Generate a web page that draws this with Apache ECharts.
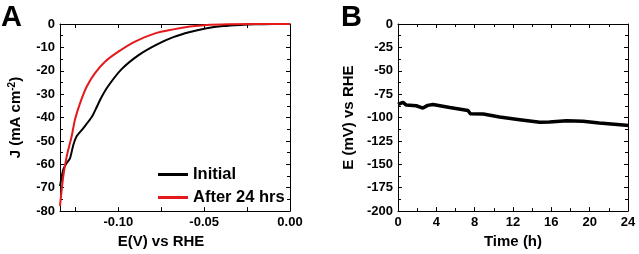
<!DOCTYPE html>
<html><head><meta charset="utf-8">
<script src="https://cdn.jsdelivr.net/npm/echarts@6/dist/echarts.min.js"></script>
<style>html,body{margin:0;padding:0;background:#fff}#c{width:639px;height:254px}</style>
</head><body><div id="c"></div>
<script>
// Panel A: polarization curves (E in V vs RHE, J in mA cm^-2)
const initialE = [-0.1340,-0.1321,-0.1301,-0.1282,-0.1262,-0.1243,-0.1204,-0.1155,-0.1126,-0.1100,-0.1059,-0.0981,-0.0880,-0.0777,-0.0680,-0.0583,-0.0485,-0.0390,-0.0291,-0.0204,-0.0100,0];
const initialJ = [-69.3,-62.2,-59.4,-57.5,-51.6,-48,-44.5,-39.8,-35.5,-31.5,-26.5,-19.3,-13.2,-8.8,-5.6,-3.4,-1.8,-0.9,-0.4,-0.15,-0.05,0];
const afterE = [-0.1340,-0.1321,-0.1301,-0.1272,-0.1253,-0.1223,-0.1184,-0.1136,-0.1078,-0.1000,-0.0903,-0.0786,-0.0680,-0.0583,-0.0485,-0.0361,-0.0200,0];
const afterJ = [-77.9,-65.1,-56.6,-48,-40.9,-33.8,-26.7,-21,-16.1,-11.8,-7.5,-4,-2.3,-1.1,-0.4,-0.1,0,0];
const aXTicks = [-0.125,-0.10,-0.075,-0.05,-0.025,0];
const aXLabels = [-0.10,-0.05,0.00];
// Panel B: chronopotentiometry (time in h, E in mV vs RHE)
const timeH = [0,0.18,0.52,0.87,1.9,2.6,3.1,3.65,5.4,7.3,7.55,8.9,10.6,12.7,14.8,15.8,17.6,19.3,21,23.8,24];
const potMV = [-86,-85.2,-83.8,-86.7,-87.4,-89.9,-87,-86,-89.2,-92.4,-95.9,-96.3,-99.5,-102.3,-105.1,-104.7,-103.4,-104,-105.8,-108.3,-108.5];

const zip = (a,b)=>a.map((v,i)=>[v,b[i]]);
const F = 'Liberation Sans, Arial, sans-serif';
const lbl = {color:'#000',fontWeight:'bold',fontSize:13,fontFamily:F,margin:5};
const axLine = {show:true,onZero:false,lineStyle:{color:'#000',width:1}};
const nameStyle = {color:'#000',fontWeight:'bold',fontSize:15,fontFamily:F};

const chart = echarts.init(document.getElementById('c'));
chart.setOption({
  animation:false,
  title:[
    {text:'A',left:-4,top:-2,textStyle:{fontSize:29,fontWeight:'bold',color:'#000',fontFamily:F}},
    {text:'B',left:336,top:-2,textStyle:{fontSize:29,fontWeight:'bold',color:'#000',fontFamily:F}}
  ],
  grid:[
    {left:60,right:349,top:24,bottom:42},
    {left:398,right:11,top:24,bottom:42}
  ],
  legend:{
    data:['Initial','After 24 hrs'],orient:'vertical',left:153,top:161,
    itemWidth:30,itemHeight:3,itemGap:6,icon:'rect',
    textStyle:{color:'#000',fontWeight:'bold',fontSize:16.5,fontFamily:F}
  },
  xAxis:[
    {type:'value',gridIndex:0,position:'bottom',min:-0.134,max:0,
     axisLine:axLine,splitLine:{show:false},
     axisTick:{inside:true,length:4,customValues:aXTicks,lineStyle:{color:'#000'}},
     axisLabel:Object.assign({},lbl,{customValues:aXLabels,formatter:v=>v.toFixed(2)}),
     name:'E(V) vs RHE',nameLocation:'middle',nameGap:19,
     nameTextStyle:Object.assign({},nameStyle,{padding:[0,28,0,0]})},
    {type:'value',gridIndex:0,position:'top',min:-0.134,max:0,
     axisLine:axLine,splitLine:{show:false},
     axisTick:{inside:true,length:4,customValues:aXTicks,lineStyle:{color:'#000'}},
     axisLabel:{show:false}},
    {type:'value',gridIndex:1,position:'bottom',min:0,max:24,interval:4,
     axisLine:axLine,splitLine:{show:false},
     axisTick:{inside:true,length:4,lineStyle:{color:'#000'}},
     minorTick:{show:true,splitNumber:2,length:3,lineStyle:{color:'#000'}},
     axisLabel:lbl,
     name:'Time (h)',nameLocation:'middle',nameGap:19,nameTextStyle:nameStyle},
    {type:'value',gridIndex:1,position:'top',min:0,max:24,interval:4,
     axisLine:axLine,splitLine:{show:false},
     axisTick:{inside:true,length:4,lineStyle:{color:'#000'}},
     minorTick:{show:true,splitNumber:2,length:3,lineStyle:{color:'#000'}},
     axisLabel:{show:false}}
  ],
  yAxis:[
    {type:'value',gridIndex:0,position:'left',min:-80,max:0,interval:10,
     axisLine:axLine,splitLine:{show:false},
     axisTick:{inside:true,length:4,lineStyle:{color:'#000'}},
     minorTick:{show:true,splitNumber:2,length:3,lineStyle:{color:'#000'}},
     axisLabel:lbl,
     name:'{a|J (mA cm}{s|-2}{a|)}',nameLocation:'middle',nameGap:35,
     nameTextStyle:Object.assign({},nameStyle,{rich:{
       a:{fontWeight:'bold',fontSize:15,fontFamily:F,color:'#000'},
       s:{fontWeight:'bold',fontSize:10,fontFamily:F,color:'#000',verticalAlign:'top',padding:[0,0,8,0]}}})},
    {type:'value',gridIndex:0,position:'right',min:-80,max:0,interval:10,
     axisLine:axLine,splitLine:{show:false},
     axisTick:{inside:true,length:4,lineStyle:{color:'#000'}},
     minorTick:{show:true,splitNumber:2,length:3,lineStyle:{color:'#000'}},
     axisLabel:{show:false}},
    {type:'value',gridIndex:1,position:'left',min:-200,max:0,interval:25,
     axisLine:axLine,splitLine:{show:false},
     axisTick:{inside:true,length:4,lineStyle:{color:'#000'}},
     minorTick:{show:true,splitNumber:2,length:3,lineStyle:{color:'#000'}},
     axisLabel:lbl,
     name:'E (mV) vs RHE',nameLocation:'middle',nameGap:42,nameTextStyle:nameStyle},
    {type:'value',gridIndex:1,position:'right',min:-200,max:0,interval:25,
     axisLine:axLine,splitLine:{show:false},
     axisTick:{inside:true,length:4,lineStyle:{color:'#000'}},
     minorTick:{show:true,splitNumber:2,length:3,lineStyle:{color:'#000'}},
     axisLabel:{show:false}}
  ],
  series:[
    {name:'Initial',type:'line',xAxisIndex:0,yAxisIndex:0,data:zip(initialE,initialJ),
     smooth:0.2,symbol:'none',lineStyle:{color:'#000',width:2},itemStyle:{color:'#000'}},
    {name:'After 24 hrs',type:'line',xAxisIndex:0,yAxisIndex:0,data:zip(afterE,afterJ),
     smooth:0.3,symbol:'none',lineStyle:{color:'#e3191c',width:2},itemStyle:{color:'#e3191c'}},
    {name:'Stability',type:'line',xAxisIndex:2,yAxisIndex:2,data:zip(timeH,potMV),
     symbol:'none',lineStyle:{color:'#000',width:3.5},itemStyle:{color:'#000'}}
  ]
});
</script></body></html>
